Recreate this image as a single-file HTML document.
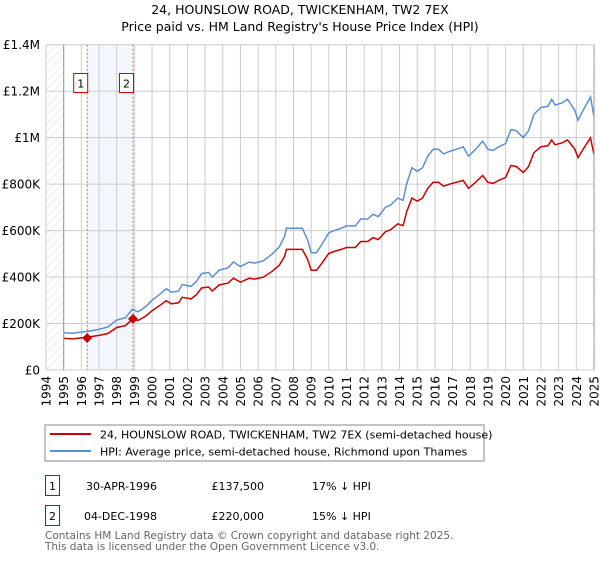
<!DOCTYPE html>
<html><head><meta charset="utf-8"><style>
body{margin:0;background:#fff;font-family:"Liberation Sans","DejaVu Sans",sans-serif;}
svg text{font-family:"DejaVu Sans","Liberation Sans",sans-serif;}
</style></head><body>
<svg id="c" width="600" height="560" xmlns="http://www.w3.org/2000/svg">
<defs><pattern id="hatch" width="6" height="6" patternUnits="userSpaceOnUse" patternTransform="rotate(45)"><line x1="0" y1="0" x2="0" y2="6" stroke="#d4d4d4" stroke-width="0.8"/></pattern></defs>
<text x="300" y="14" text-anchor="middle" font-size="12.5" fill="#000">24, HOUNSLOW ROAD, TWICKENHAM, TW2 7EX</text>
<text x="300" y="31" text-anchor="middle" font-size="12.5" fill="#000">Price paid vs. HM Land Registry's House Price Index (HPI)</text>
<g id="grid"></g><g id="marks"></g><g id="axes"></g>
<rect x="45" y="425" width="439" height="36" fill="#fff" stroke="#888"/>
<line x1="50" y1="434" x2="91" y2="434" stroke="#cc0000" stroke-width="2"/>
<text x="100" y="438.5" font-size="11">24, HOUNSLOW ROAD, TWICKENHAM, TW2 7EX (semi-detached house)</text>
<line x1="50" y1="451" x2="91" y2="451" stroke="#5b8fd4" stroke-width="2"/>
<text x="100" y="455.5" font-size="11">HPI: Average price, semi-detached house, Richmond upon Thames</text>
<g font-size="11">
<rect x="45.5" y="475.5" width="14" height="20" fill="#fff" stroke="#cc0000"/>
<text x="52.5" y="490" text-anchor="middle">1</text>
<text x="157" y="490" text-anchor="end">30-APR-1996</text>
<text x="264" y="490" text-anchor="end">£137,500</text>
<text x="312" y="490">17% ↓ HPI</text>
<rect x="45.5" y="505.5" width="14" height="20" fill="#fff" stroke="#cc0000"/>
<text x="52.5" y="520" text-anchor="middle">2</text>
<text x="157" y="520" text-anchor="end">04-DEC-1998</text>
<text x="264" y="520" text-anchor="end">£220,000</text>
<text x="312" y="520">15% ↓ HPI</text>
</g>
<text x="45" y="539" font-size="10.5" fill="#666">Contains HM Land Registry data © Crown copyright and database right 2025.</text>
<text x="45" y="550" font-size="10.5" fill="#666">This data is licensed under the Open Government Licence v3.0.</text>
</svg>
<script>
const hpiYears=[1995.0,1995.5,1996,1996.5,1997,1997.5,1998,1998.5,1998.9,1999.2,1999.6,2000,2000.5,2000.8,2001.1,2001.5,2001.7,2002.2,2002.5,2002.8,2003.2,2003.4,2003.8,2004.3,2004.6,2005,2005.5,2005.8,2006.3,2006.8,2007.2,2007.5,2007.6,2008,2008.5,2008.8,2009,2009.3,2009.6,2010,2010.3,2010.7,2011,2011.5,2011.8,2012.2,2012.5,2012.8,2013.2,2013.5,2013.9,2014.2,2014.4,2014.7,2015,2015.3,2015.6,2015.9,2016.2,2016.5,2016.8,2017.2,2017.6,2017.9,2018.3,2018.7,2019,2019.3,2019.6,2020,2020.3,2020.6,2021,2021.3,2021.6,2022,2022.4,2022.6,2022.8,2023.2,2023.5,2023.9,2024.1,2024.4,2024.8,2025];
const hpiValues=[160,158,163,168,175,185,215,225,262,250,270,300,330,350,335,340,368,360,380,415,420,400,430,440,465,445,465,460,470,500,530,575,610,610,610,560,505,505,540,590,600,610,620,620,650,650,670,660,700,710,740,730,800,870,855,870,920,950,950,930,940,950,960,920,950,985,950,945,960,975,1035,1030,1000,1030,1100,1130,1135,1165,1140,1150,1165,1120,1075,1120,1175,1090];
const priceValues=[136,134,138,143,149,157,183,191,220,213,230,255,281,298,285,289,313,306,323,353,357,340,366,374,395,378,395,391,400,425,451,489,519,519,519,476,429,429,459,502,510,519,527,527,553,553,570,561,595,604,629,621,680,740,727,740,782,808,808,791,799,808,816,782,808,837,808,803,816,829,880,876,850,876,935,961,965,990,969,978,990,952,914,952,999,927];
const saleYears=[1996.33,1998.92];
const salePrices=[137.5,220];
const saleLabels=["1","2"];
const yTicks=[0,200,400,600,800,1000,1200,1400];
const yTickLabels=["£0","£200K","£400K","£600K","£800K","£1M","£1.2M","£1.4M"];
const xTickYears=[1994,1995,1996,1997,1998,1999,2000,2001,2002,2003,2004,2005,2006,2007,2008,2009,2010,2011,2012,2013,2014,2015,2016,2017,2018,2019,2020,2021,2022,2023,2024,2025];

const NS="http://www.w3.org/2000/svg";
const X0=46,X1=594,Y0=370,Y1=44.7;
const x=y=>X0+(y-1994)/(2025-1994)*(X1-X0);
const yv=v=>Y0-v/1400*(Y0-Y1);
function mk(parent,tag,attrs){const e=document.createElementNS(NS,tag);for(const k in attrs)e.setAttribute(k,attrs[k]);parent.appendChild(e);return e;}
const grid=document.getElementById('grid'),marks=document.getElementById('marks'),axes=document.getElementById('axes');

let r=mk(grid,'rect',{x:x(1994),y:Y1,width:x(1995)-x(1994),height:Y0-Y1,fill:'url(#hatch)'});


r=mk(grid,'rect',{x:x(2025),y:Y1,width:3,height:Y0-Y1,fill:'url(#hatch)'});


r=mk(grid,'rect',{x:x(saleYears[0]),y:Y1,width:x(saleYears[1])-x(saleYears[0]),height:Y0-Y1,fill:'#eef3fc',opacity:0.75});



yTicks.forEach((t,i)=>{
  const l=mk(grid,'line',{x1:X0,x2:X1,y1:yv(t),y2:yv(t),stroke:'#ccc','stroke-width':1});
  
  
  const tx=mk(axes,'text',{x:40,y:yv(t)+4.5,'text-anchor':'end','font-size':12});
  
  
  tx.textContent=yTickLabels[i];
});
xTickYears.forEach(yr=>{
  const l=mk(grid,'line',{x1:x(yr),x2:x(yr),y1:Y1,y2:Y0,stroke:'#ccc','stroke-width':1});
  
  
  const tx=mk(axes,'text',{x:0,y:0,'text-anchor':'end','font-size':12,transform:`translate(${x(yr)+4.5},${Y0+6}) rotate(-90)`});
  
  
  tx.textContent=String(yr);
});
let a=mk(axes,'line',{x1:x(1995),x2:x(1995),y1:Y1,y2:Y0,stroke:'#999'});


a=mk(axes,'line',{x1:x(2025),x2:x(2025),y1:Y1,y2:Y0,stroke:'#999'});



saleYears.forEach((sy,i)=>{
  const l=mk(marks,'line',{x1:x(sy),x2:x(sy),y1:Y1,y2:Y0,stroke:'#e06060','stroke-dasharray':'2,2','stroke-width':1});
  
  
  const b=mk(marks,'rect',{x:x(sy)-13.5,y:73.5,width:14,height:19,fill:'#fff',stroke:'#cc0000'});
  
  
  const t=mk(marks,'text',{x:x(sy)-6.5,y:87.5,'text-anchor':'middle','font-size':11});
  
  
  t.textContent=saleLabels[i];
});

const ptsH=hpiYears.map((yr,i)=>x(yr).toFixed(1)+','+yv(hpiValues[i]).toFixed(1)).join(' ');
const hp=mk(marks,'polyline',{points:ptsH,fill:'none',stroke:'#5b8fd4','stroke-width':1.5});


const ptsP=hpiYears.map((yr,i)=>x(yr).toFixed(1)+','+yv(priceValues[i]).toFixed(1)).join(' ');
const pp=mk(marks,'polyline',{points:ptsP,fill:'none',stroke:'#cc0000','stroke-width':1.5});



saleYears.forEach((sy,i)=>{
  const cx=x(sy),cy=yv(salePrices[i]),s=5;
  const c=mk(marks,'polygon',{points:`${cx},${cy-s} ${cx+s},${cy} ${cx},${cy+s} ${cx-s},${cy}`,fill:'#cc0000'});
  
  
});
</script>
</body></html>
